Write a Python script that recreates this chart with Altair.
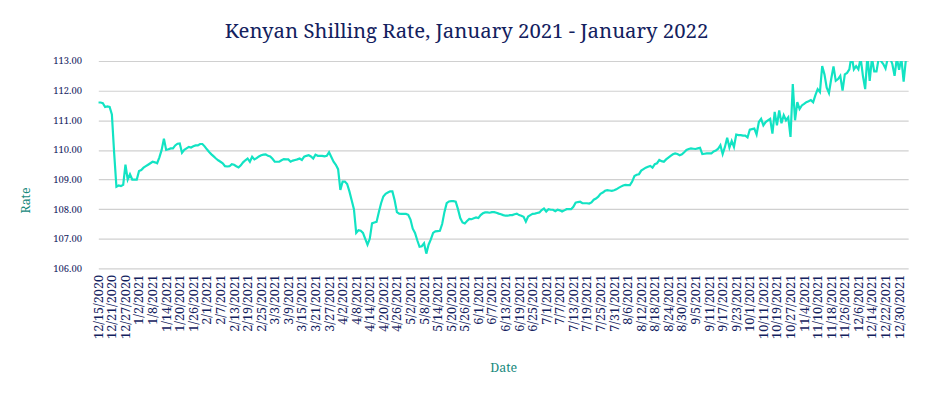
import json
import altair as alt
import pandas as pd

# Tick labels shown on the category (date) axis, one every 6 observations
tick_labels = [
    "12/15/2020", "12/21/2020", "12/27/2020", "1/2/2021", "1/8/2021", "1/14/2021",
    "1/20/2021", "1/26/2021", "2/1/2021", "2/7/2021", "2/13/2021", "2/19/2021",
    "2/25/2021", "3/3/2021", "3/9/2021", "3/15/2021", "3/21/2021", "3/27/2021",
    "4/2/2021", "4/8/2021", "4/14/2021", "4/20/2021", "4/26/2021", "5/2/2021",
    "5/8/2021", "5/14/2021", "5/20/2021", "5/26/2021", "6/1/2021", "6/7/2021",
    "6/13/2021", "6/19/2021", "6/25/2021", "7/1/2021", "7/7/2021", "7/13/2021",
    "7/19/2021", "7/25/2021", "7/31/2021", "8/6/2021", "8/12/2021", "8/18/2021",
    "8/24/2021", "8/30/2021", "9/5/2021", "9/11/2021", "9/17/2021", "9/23/2021",
    "10/1/2021", "10/11/2021", "10/19/2021", "10/27/2021", "11/4/2021", "11/10/2021",
    "11/18/2021", "11/26/2021", "12/6/2021", "12/14/2021", "12/22/2021", "12/30/2021",
]

# Exchange rate values (KES per USD)
rates = [
    111.60, 111.60, 111.58, 111.45, 111.47, 111.45,
    111.20, 109.90, 108.76, 108.80, 108.78, 108.82,
    109.50, 109.00, 109.18, 109.00, 109.00, 109.00,
    109.29, 109.32, 109.40, 109.45, 109.50, 109.55,
    109.60, 109.58, 109.55, 109.75, 110.00, 110.38,
    110.00, 110.02, 110.05, 110.05, 110.15, 110.21,
    110.22, 109.90, 110.00, 110.05, 110.10, 110.08,
    110.12, 110.15, 110.15, 110.20, 110.20, 110.12,
    110.02, 109.93, 109.85, 109.78, 109.71, 109.65,
    109.60, 109.55, 109.45, 109.44, 109.45, 109.52,
    109.50, 109.45, 109.41, 109.48, 109.58, 109.65,
    109.71, 109.60, 109.77, 109.68, 109.72, 109.78,
    109.82, 109.84, 109.85, 109.80, 109.78, 109.70,
    109.60, 109.60, 109.60, 109.65, 109.69, 109.68,
    109.68, 109.60, 109.64, 109.66, 109.68, 109.71,
    109.66, 109.77, 109.80, 109.82, 109.78, 109.71,
    109.84, 109.80, 109.80, 109.80, 109.78, 109.80,
    109.92, 109.76, 109.60, 109.50, 109.35, 108.65,
    108.93, 108.93, 108.85, 108.60, 108.30, 108.00,
    107.20, 107.29, 107.27, 107.20, 107.00, 106.80,
    107.00, 107.52, 107.55, 107.57, 107.90, 108.20,
    108.43, 108.52, 108.56, 108.60, 108.60, 108.30,
    107.90, 107.85, 107.84, 107.84, 107.84, 107.81,
    107.65, 107.34, 107.20, 106.95, 106.73, 106.75,
    106.85, 106.50, 106.80, 106.98, 107.20, 107.25,
    107.26, 107.27, 107.50, 107.90, 108.20, 108.26,
    108.27, 108.27, 108.25, 108.00, 107.70, 107.55,
    107.52, 107.60, 107.67, 107.66, 107.69, 107.72,
    107.70, 107.80, 107.86, 107.89, 107.89, 107.88,
    107.90, 107.90, 107.88, 107.85, 107.83, 107.80,
    107.78, 107.78, 107.80, 107.80, 107.83, 107.85,
    107.80, 107.78, 107.74, 107.58, 107.75, 107.80,
    107.84, 107.85, 107.87, 107.89, 107.97, 108.02,
    107.92, 108.00, 107.98, 107.98, 107.93, 107.98,
    107.96, 107.92, 107.96, 108.00, 108.00, 108.00,
    108.08, 108.22, 108.24, 108.25, 108.20, 108.20,
    108.20, 108.19, 108.23, 108.32, 108.36, 108.42,
    108.52, 108.56, 108.62, 108.64, 108.63, 108.62,
    108.64, 108.67, 108.72, 108.76, 108.80, 108.82,
    108.81, 108.81, 108.93, 109.12, 109.16, 109.18,
    109.30, 109.35, 109.40, 109.43, 109.46, 109.40,
    109.52, 109.55, 109.66, 109.62, 109.60, 109.68,
    109.74, 109.80, 109.85, 109.88, 109.86, 109.82,
    109.85, 109.92, 110.00, 110.03, 110.05, 110.04,
    110.03, 110.05, 110.07, 109.86, 109.87, 109.88,
    109.88, 109.88, 109.95, 109.98, 110.04, 110.16,
    109.86, 110.10, 110.41, 110.08, 110.30, 110.10,
    110.52, 110.50, 110.50, 110.48, 110.48, 110.42,
    110.68, 110.70, 110.72, 110.52, 110.94, 111.05,
    110.83, 110.94, 111.00, 111.05, 110.55, 111.28,
    110.83, 111.33, 110.90, 111.17, 111.00, 111.10,
    110.44, 112.22, 111.00, 111.61, 111.38, 111.50,
    111.55, 111.61, 111.64, 111.68, 111.61, 111.85,
    112.05, 111.95, 112.83, 112.55, 112.10, 111.92,
    112.40, 112.82, 112.33, 112.39, 112.50, 112.00,
    112.55, 112.60, 112.72, 113.20, 112.72, 112.83,
    112.72, 113.10, 112.50, 112.05, 113.20, 112.33,
    113.10, 112.65, 112.65, 113.10, 113.00, 112.90,
    112.75, 113.10, 113.10, 112.90, 112.50, 113.10,
    112.70, 113.10, 112.30, 113.05,
]

y_ticks = [106, 107, 108, 109, 110, 111, 112, 113]

df = pd.DataFrame({"idx": list(range(len(rates))), "rate": rates})

NAVY = "#13215e"
TEAL = "#16897c"
LINE = "#12e3c3"
FONT = "Noto Serif"

label_expr = json.dumps(tick_labels) + "[round(datum.value / 6)]"

chart = (
    alt.Chart(df)
    .mark_line(color=LINE, strokeWidth=2.2, clip=True)
    .encode(
        x=alt.X(
            "idx:Q",
            scale=alt.Scale(domain=[0, 358], nice=False, zero=False),
            axis=alt.Axis(
                title="Date",
                values=list(range(0, 6 * len(tick_labels), 6)),
                labelExpr=label_expr,
                labelAngle=270,
                labelFont=FONT,
                labelFontSize=12.8,
                labelColor=NAVY,
                labelPadding=6,
                labelOverlap=False,
                labelFlush=False,
                labelBound=False,
                ticks=False,
                tickSize=0,
                domain=False,
                grid=False,
                titleFont=FONT,
                titleFontSize=12.5,
                titleFontWeight="normal",
                titleColor=TEAL,
                titleY=100,
                titleBaseline="middle",
            ),
        ),
        y=alt.Y(
            "rate:Q",
            scale=alt.Scale(domain=[106, 113], nice=False, zero=False),
            axis=alt.Axis(
                title="Rate",
                values=y_ticks,
                format=".2f",
                labelFont=FONT,
                labelFontSize=9.5,
                labelColor=NAVY,
                labelPadding=17,
                ticks=False,
                tickSize=0,
                domain=False,
                grid=True,
                gridColor="#d0d0d0",
                gridWidth=1.2,
                titleFont=FONT,
                titleFontSize=12.5,
                titleFontWeight="normal",
                titleColor=TEAL,
                titleAngle=270,
                titleX=-73,
                titleY=140,
                titleBaseline="middle",
                titleAlign="center",
            ),
        ),
    )
    .properties(
        width=816,
        height=209,
        title=alt.TitleParams(
            text="Kenyan Shilling Rate, January 2021 - January 2022",
            font=FONT,
            fontSize=20.5,
            fontWeight="normal",
            color=NAVY,
            anchor="middle",
            dx=-37,
            offset=14,
        ),
        autosize=alt.AutoSizeParams(type="none"),
        padding={"left": 91, "top": 52, "right": 20, "bottom": 110},
    )
    .configure_view(stroke=None)
)

chart.save("out.html", embed_options={"renderer": "svg", "actions": False})
